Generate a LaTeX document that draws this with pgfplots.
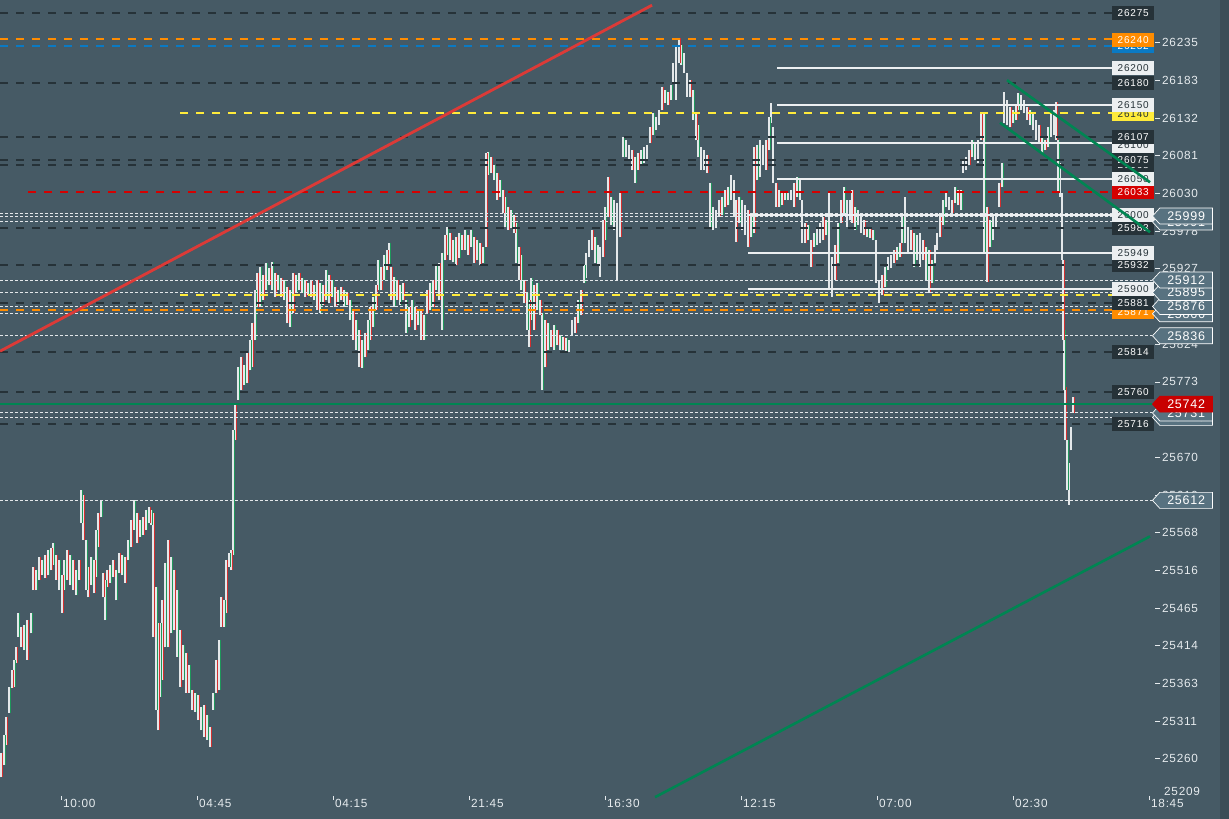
\documentclass[border=0pt]{standalone}
\usepackage{fontspec}
\setmainfont{Liberation Sans}
\newfontfamily\lblfont[LetterSpace=6]{Liberation Sans}
\newfontfamily\boxfont[LetterSpace=8]{Liberation Sans}
\usepackage{pgfplots}
\pgfplotsset{compat=1.18}
\usepackage{pgfplotstable}
\usetikzlibrary{shapes.symbols}
\definecolor{bgc}{HTML}{465A65}
\definecolor{stripc}{HTML}{3B4D57}
\definecolor{darkl}{HTML}{263238}
\definecolor{wsol}{HTML}{ECEFF1}
\definecolor{wdot}{HTML}{E3E7EA}
\definecolor{redl}{HTML}{D50000}
\definecolor{orgl}{HTML}{FF8C00}
\definecolor{yell}{HTML}{FFEB3B}
\definecolor{blul}{HTML}{0A7AC4}
\definecolor{grnl}{HTML}{008552}
\definecolor{redd}{HTML}{E53935}
\definecolor{cof}{HTML}{587280}
\definecolor{curred}{HTML}{C80000}
\definecolor{lbl}{HTML}{E6EBEE}
\definecolor{cwhite}{HTML}{E4E8EA}
\definecolor{cred}{HTML}{D32F2F}
\definecolor{cgreen}{HTML}{1E965A}

\pgfplotstableread{
x hi lo
1 25268 25235
4 25293 25252
6 25317 25279
9 25358 25323
12 25381 25357
14 25395 25358
16 25412 25391
18 25459 25426
21 25440 25412
24 25442 25408
27 25449 25395
31 25459 25431
33 25521 25490
36 25517 25490
39 25535 25504
42 25531 25510
45 25538 25506
48 25544 25510
51 25547 25517
53 25554 25524
56 25538 25504
59 25531 25490
62 25510 25459
64 25531 25490
67 25544 25504
70 25538 25497
73 25531 25490
76 25517 25483
79 25531 25504
81 25626 25581
83 25619 25558
86 25558 25490
88 25521 25480
91 25535 25497
94 25531 25486
96 25572 25508
98 25595 25549
101 25612 25589
103 25513 25480
105 25504 25449
107 25517 25494
110 25524 25500
113 25531 25508
116 25517 25476
119 25540 25513
122 25538 25510
125 25535 25500
128 25558 25531
131 25585 25549
134 25612 25572
137 25595 25554
140 25585 25562
143 25589 25565
146 25599 25572
149 25603 25581
151 25599 25578
153 25595 25426
156 25494 25327
158 25445 25299
160 25445 25344
162 25476 25367
165 25527 25412
168 25558 25412
171 25535 25431
174 25517 25436
177 25490 25399
180 25436 25358
183 25415 25367
186 25404 25350
189 25388 25350
192 25354 25327
195 25350 25324
198 25347 25313
201 25331 25299
204 25333 25290
207 25320 25286
210 25303 25276
213 25350 25327
216 25395 25350
219 25422 25354
221 25480 25440
224 25476 25440
226 25531 25459
229 25540 25521
231 25544 25517
233 25708 25538
235 25745 25694
238 25793 25749
241 25807 25762
244 25796 25769
247 25813 25772
250 25830 25789
252 25853 25793
255 25898 25830
257 25921 25875
260 25930 25875
263 25919 25885
266 25935 25898
269 25928 25905
272 25936 25898
275 25921 25889
278 25919 25898
281 25915 25889
284 25912 25885
287 25902 25853
290 25898 25848
293 25921 25867
296 25919 25894
299 25921 25898
302 25915 25894
305 25912 25889
308 25908 25891
311 25912 25889
314 25905 25885
317 25912 25871
320 25908 25867
323 25905 25878
326 25926 25885
329 25919 25881
332 25912 25889
335 25902 25875
338 25898 25878
341 25902 25885
344 25898 25875
347 25894 25878
350 25885 25857
353 25871 25830
356 25857 25817
359 25844 25793
362 25830 25792
365 25840 25807
368 25857 25817
370 25875 25830
373 25889 25848
376 25905 25871
378 25939 25898
381 25930 25898
384 25946 25912
387 25953 25926
389 25962 25932
391 25930 25885
394 25916 25875
397 25912 25885
400 25905 25878
403 25908 25885
406 25885 25840
409 25875 25848
412 25885 25857
415 25875 25844
418 25871 25851
421 25871 25830
424 25864 25830
427 25898 25867
430 25908 25871
433 25912 25875
436 25932 25898
439 25935 25885
442 25949 25844
445 25973 25939
447 25984 25946
450 25976 25939
453 25966 25936
456 25970 25932
459 25976 25942
462 25973 25953
465 25980 25953
468 25973 25946
471 25980 25957
474 25970 25935
477 25966 25939
480 25962 25932
483 25957 25935
486 26085 25957
488 26086 26055
491 26079 26058
494 26068 26048
497 26058 26021
500 26048 26025
503 26034 26003
505 26025 25984
508 26011 25980
511 26007 25983
514 26000 25976
516 25990 25935
519 25957 25912
521 25946 25898
524 25912 25881
527 25894 25844
529 25885 25821
531 25915 25857
534 25905 25844
537 25908 25871
540 25885 25864
542 25867 25762
545 25857 25793
548 25853 25817
551 25844 25821
554 25851 25817
557 25844 25823
560 25837 25817
563 25834 25817
566 25833 25814
569 25830 25814
572 25857 25837
575 25861 25840
578 25885 25853
581 25898 25864
584 25932 25908
586 25949 25915
589 25966 25943
592 25980 25953
595 25970 25935
598 25960 25932
600 25957 25916
603 25994 25943
605 26011 25966
608 26052 25998
611 26025 25987
614 26021 25980
617 26017 25912
620 26030 25970
623 26107 26079
626 26102 26079
629 26096 26075
632 26089 26062
635 26079 26044
638 26085 26062
641 26089 26068
644 26093 26071
647 26096 26075
650 26120 26098
653 26139 26109
656 26134 26116
659 26143 26123
662 26175 26143
665 26171 26153
668 26168 26150
671 26177 26157
673 26207 26180
676 26229 26157
679 26241 26207
681 26232 26205
684 26221 26194
687 26194 26161
690 26184 26161
693 26171 26130
696 26139 26102
698 26123 26079
701 26093 26062
704 26089 26062
707 26082 26058
710 26044 25984
713 26011 25980
716 26007 25983
719 26021 25998
722 26025 26000
725 26034 26011
728 26038 26014
731 26055 26021
734 26048 25998
736 26021 25964
739 26025 25990
742 26021 25980
745 26014 25973
748 26007 25957
751 25998 25970
754 26093 25976
757 26096 26048
760 26102 26052
763 26096 26068
766 26102 26062
769 26134 26089
771 26153 26126
773 26120 26044
776 26044 26011
779 26034 26011
782 26030 26014
785 26030 26021
788 26030 26021
791 26034 26021
794 26044 26011
797 26052 26025
800 26048 26021
802 26021 25962
805 25990 25962
808 25987 25966
811 25966 25930
814 25976 25957
817 25983 25960
820 25990 25962
823 25998 25966
826 25994 25973
829 26030 25898
832 25943 25889
835 25960 25912
838 25990 25935
841 26021 25990
844 26038 26000
847 26021 25984
850 26021 25994
852 26034 25990
855 26011 25980
858 26007 25987
861 25998 25976
864 25994 25973
867 25984 25970
870 25983 25969
873 25980 25966
876 25966 25908
879 25912 25881
882 25919 25891
885 25930 25902
888 25943 25926
891 25946 25928
894 25953 25935
897 25957 25939
900 25962 25943
902 25998 25962
905 26025 25962
908 25984 25949
911 25980 25953
914 25976 25930
917 25973 25939
920 25976 25930
923 25966 25939
926 25957 25912
929 25953 25894
932 25939 25908
935 25960 25935
937 25976 25953
940 26003 25970
943 26021 25987
946 26030 26011
949 26025 26007
952 26021 26003
955 26038 26017
958 26034 26014
961 26034 26007
963 26075 26058
966 26079 26062
969 26089 26068
972 26102 26079
975 26100 26075
978 26102 26071
981 26139 26102
984 26141 25949
987 26011 25909
990 25994 25957
993 26000 25966
996 26003 25984
999 26044 26011
1002 26071 26038
1004 26168 26126
1007 26157 26123
1010 26147 26120
1013 26143 26126
1016 26150 26130
1018 26166 26143
1021 26164 26143
1024 26157 26139
1027 26147 26130
1030 26143 26123
1033 26139 26116
1036 26130 26102
1039 26123 26098
1042 26107 26085
1045 26102 26089
1048 26120 26093
1051 26139 26107
1054 26143 26109
1056 26154 26102
1058 26102 26030
1060 26071 26025
1062 26030 25939
1063 25939 25830
1064 25844 25762
1065 25766 25694
1067 25694 25626
1069 25663 25606
1071 25712 25680
1073 25753 25731
}\candles

\tikzset{
  dk/.style={draw=darkl, line width=2pt, dash pattern=on 8pt off 8pt},
  wd/.style={draw=wdot, line width=0.9pt, dash pattern=on 3pt off 2pt},
  ws/.style={draw=wsol, line width=2pt},
  bx/.style={anchor=west, minimum width=42pt, minimum height=14pt, inner sep=0pt, font=\boxfont\fontsize{10}{10}\selectfont},
  co/.style={signal, signal to=west, signal pointer angle=95, anchor=west, draw=white, line width=0.7pt, fill=cof, text=white, minimum width=60pt, minimum height=16pt, inner sep=1pt, font=\lblfont\fontsize{12.5}{12.5}\selectfont},
  yl/.style={anchor=west, inner sep=0pt, text=lbl, font=\lblfont\fontsize{11.8}{11.8}\selectfont},
  xl/.style={anchor=west, inner sep=0pt, text=lbl, font=\lblfont\fontsize{11.8}{11.8}\selectfont},
}

\begin{document}
\begin{tikzpicture}
\fill[bgc] (0pt,0pt) rectangle (1229pt,819pt);
\fill[stripc] (1220pt,0pt) rectangle (1229pt,819pt);
\begin{axis}[at={(0pt,0pt)}, anchor=south west, width=1229pt, height=819pt, scale only axis,
  xmin=0, xmax=1229, ymin=25178.3, ymax=26293.1, hide axis]

% candles
\addplot[draw=none, mark=none, forget plot,
  error bars/.cd, y dir=plus, y explicit, error mark=none,
  error bar style={draw=cwhite, line width=1.2pt}]
  table[x=x, y=lo, y error expr=\thisrow{hi}-\thisrow{lo}] {\candles};
\addplot[draw=none, mark=none, forget plot,
  x filter/.expression={mod(\coordindex,2)==0 ? x : nan},
  error bars/.cd, y dir=plus, y explicit, error mark=none,
  error bar style={draw=cred, line width=0.9pt}]
  table[x expr=\thisrow{x}+1.5, y=lo, y error expr=\thisrow{hi}-\thisrow{lo}] {\candles};
\addplot[draw=none, mark=none, forget plot,
  x filter/.expression={mod(\coordindex,2)==1 ? x : nan},
  error bars/.cd, y dir=plus, y explicit, error mark=none,
  error bar style={draw=cgreen, line width=0.9pt}]
  table[x expr=\thisrow{x}+1.5, y=lo, y error expr=\thisrow{hi}-\thisrow{lo}] {\candles};

% dark dashed levels
\addplot[dk] coordinates {(0,26275) (1113,26275)};
\addplot[dk] coordinates {(0,26180) (1113,26180)};
\addplot[dk] coordinates {(0,26107) (1113,26107)};
\addplot[dk] coordinates {(0,26075) (1113,26075)};
\addplot[dk] coordinates {(0,26068) (1113,26068)};
\addplot[dk] coordinates {(0,25983) (1113,25983)};
\addplot[dk] coordinates {(0,25932) (1113,25932)};
\addplot[dk] coordinates {(0,25880) (1113,25880)};
\addplot[dk] coordinates {(0,25814) (1113,25814)};
\addplot[dk] coordinates {(0,25760) (1113,25760)};
\addplot[dk] coordinates {(0,25716) (1113,25716)};
% coloured dashed levels
\addplot[draw=orgl, line width=2pt, dash pattern=on 8pt off 8pt] coordinates {(0,26240) (1113,26240)};
\addplot[draw=blul, line width=2pt, dash pattern=on 8pt off 8pt] coordinates {(0,26231) (1113,26231)};
\addplot[draw=yell, line width=2pt, dash pattern=on 8pt off 8pt] coordinates {(180,26139) (1113,26139)};
\addplot[draw=redl, line width=2pt, dash pattern=on 8pt off 8pt] coordinates {(28,26032) (1113,26032)};
\addplot[draw=yell, line width=2pt, dash pattern=on 8pt off 8pt] coordinates {(180,25892) (1113,25892)};
\addplot[draw=orgl, line width=2pt, dash pattern=on 8pt off 8pt] coordinates {(0,25871) (1113,25871)};
% white dotted levels
\addplot[wd] coordinates {(0,26003) (1152,26003)};
\addplot[wd] coordinates {(0,25999) (1152,25999)};
\addplot[wd] coordinates {(0,25991) (1152,25991)};
\addplot[wd] coordinates {(0,25912) (1152,25912)};
\addplot[wd] coordinates {(0,25895) (1152,25895)};
\addplot[wd] coordinates {(0,25876) (1152,25876)};
\addplot[wd] coordinates {(0,25866) (1152,25866)};
\addplot[wd] coordinates {(0,25836) (1152,25836)};
\addplot[wd] coordinates {(0,25731) (1152,25731)};
\addplot[wd] coordinates {(0,25725) (1152,25725)};
\addplot[wd] coordinates {(0,25612) (1152,25612)};
% white solid levels
\addplot[ws] coordinates {(777,26200) (1113,26200)};
\addplot[ws] coordinates {(777,26150) (1113,26150)};
\addplot[ws] coordinates {(777,26098) (1113,26098)};
\addplot[ws] coordinates {(777,26050) (1113,26050)};
\addplot[ws] coordinates {(748,26000) (1113,26000)};
\addplot[ws] coordinates {(748,25949) (1113,25949)};
\addplot[ws] coordinates {(748,25900) (1113,25900)};
% current price line
\addplot[draw=grnl, line width=1.5pt] coordinates {(0,25743) (1152,25743)};

% trend lines
\addplot[draw=redd, line width=2.8pt, opacity=0.95] coordinates {(0,25815) (652,26286)};
\addplot[draw=grnl, line width=2.6pt] coordinates {(655,25208) (1150,25563)};

% y axis labels
\node[yl] at (axis cs:1162,26235) {26235};
\node[yl] at (axis cs:1162,26183.69) {26183};
\node[yl] at (axis cs:1162,26132.38) {26132};
\node[yl] at (axis cs:1162,26081.07) {26081};
\node[yl] at (axis cs:1162,26029.76) {26030};
\node[yl] at (axis cs:1162,25978.45) {25978};
\node[yl] at (axis cs:1162,25927.14) {25927};
\node[yl] at (axis cs:1162,25875.83) {25876};
\node[yl] at (axis cs:1162,25824.52) {25824};
\node[yl] at (axis cs:1162,25773.21) {25773};
\node[yl] at (axis cs:1162,25721.9) {25721};
\node[yl] at (axis cs:1162,25670.59) {25670};
\node[yl] at (axis cs:1162,25619.28) {25619};
\node[yl] at (axis cs:1162,25567.97) {25568};
\node[yl] at (axis cs:1162,25516.66) {25516};
\node[yl] at (axis cs:1162,25465.35) {25465};
\node[yl] at (axis cs:1162,25414.04) {25414};
\node[yl] at (axis cs:1162,25362.73) {25363};
\node[yl] at (axis cs:1162,25311.42) {25311};
\node[yl] at (axis cs:1162,25260.11) {25260};
\node[yl] at (axis cs:1164,25216) {25209};
\foreach \v in {26235,26183.69,26132.38,26081.07,26029.76,25978.45,25927.14,25875.83,25824.52,25773.21,25721.9,25670.59,25619.28,25567.97,25516.66,25465.35,25414.04,25362.73,25311.42,25260.11}{
  \edef\tmp{\noexpand\draw[lbl, line width=0.8pt] (axis cs:1155,\v) -- (axis cs:1160,\v);}\tmp
}

% x axis labels
\foreach \xx/\tt in {61/10:00,197/04:45,333/04:15,469/21:45,605/16:30,741/12:15,877/07:00,1013/02:30,1149/18:45}{
  \edef\tmp{\noexpand\draw[lbl, line width=0.8pt] (axis cs:\xx,25209.7) -- (axis cs:\xx,25204.2);
  \noexpand\node[xl] at (axis cs:\xx+2,25198.8) {\tt};}\tmp
}

% level boxes (lower first)
\node[bx, fill=darkl, text=white] at (axis cs:1112,25716) {25716};
\node[bx, fill=darkl, text=white] at (axis cs:1112,25760) {25760};
\node[bx, fill=darkl, text=white] at (axis cs:1112,25814) {25814};
\node[bx, fill=yell, text=darkl] at (axis cs:1112,25892) {25892};
\node[bx, fill=orgl, text=white] at (axis cs:1112,25869) {25871};
\node[bx, fill=darkl, text=white] at (axis cs:1112,25880) {25881};
\node[bx, fill=wsol, text=darkl] at (axis cs:1112,25900) {25900};
\node[bx, fill=darkl, text=white] at (axis cs:1112,25932) {25932};
\node[bx, fill=wsol, text=darkl] at (axis cs:1112,25949) {25949};
\node[bx, fill=darkl, text=white] at (axis cs:1112,25983) {25983};
\node[bx, fill=wsol, text=darkl] at (axis cs:1112,26000) {26000};
\node[bx, fill=redl, text=white] at (axis cs:1112,26032) {26033};
\node[bx, fill=wsol, text=darkl] at (axis cs:1112,26050) {26050};
\node[bx, fill=darkl, text=white] at (axis cs:1112,26068) {26068};
\node[bx, fill=darkl, text=white] at (axis cs:1112,26075) {26075};
\node[bx, fill=wsol, text=darkl] at (axis cs:1112,26095) {26100};
\node[bx, fill=darkl, text=white] at (axis cs:1112,26107) {26107};
\node[bx, fill=yell, text=darkl] at (axis cs:1112,26138) {26140};
\node[bx, fill=wsol, text=darkl] at (axis cs:1112,26150) {26150};
\node[bx, fill=darkl, text=white] at (axis cs:1112,26180) {26180};
\node[bx, fill=wsol, text=darkl] at (axis cs:1112,26200) {26200};
\node[bx, fill=blul, text=white] at (axis cs:1112,26231) {26232};
\node[bx, fill=orgl, text=white] at (axis cs:1112,26239) {26240};
\node[bx, fill=darkl, text=white] at (axis cs:1112,26275) {26275};

% channel lines drawn over the boxes
\addplot[draw=grnl, line width=2.6pt] coordinates {(1007,26184) (1150,26045)};
\addplot[draw=grnl, line width=2.6pt] coordinates {(1000,26126) (1150,25977)};

% callouts (lower first)
\node[co] at (axis cs:1152,25612) {25612};
\node[co] at (axis cs:1152,25725) {25725};
\node[co] at (axis cs:1152,25731) {25731};
\node[co, fill=curred, draw=curred] at (axis cs:1152,25743) {25742};
\node[co] at (axis cs:1152,25836) {25836};
\node[co] at (axis cs:1152,25866) {25866};
\node[co] at (axis cs:1152,25876) {25876};
\node[co] at (axis cs:1152,25895) {25895};
\node[co] at (axis cs:1152,25912) {25912};
\node[co] at (axis cs:1152,25991) {25991};
\node[co] at (axis cs:1152,25999) {25999};
\end{axis}
\end{tikzpicture}
\end{document}
